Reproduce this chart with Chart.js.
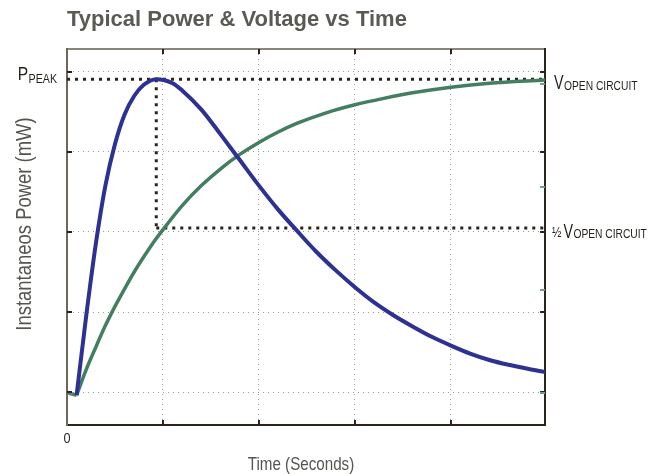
<!DOCTYPE html>
<html>
<head>
<meta charset="utf-8">
<script src="https://cdn.jsdelivr.net/npm/chart.js@4.4.0/dist/chart.umd.min.js"></script>
<style>
  html, body { margin: 0; padding: 0; background: #fff; }
  #wrap { width: 662px; height: 474px; }
</style>
</head>
<body>
<div id="wrap"><canvas id="powerChart" width="662" height="474"></canvas></div>
<script>
const FONT = "'Liberation Sans', Arial, sans-serif";
const NARROW = 0.82; // condensed look

// ================= DATA =================
const timeTicks = [0, 1, 2, 3, 4];
const levelTicks = [0, 1, 2, 3, 4];
const voltTicks = [0, 1, 2, 3];

// flat lead-in before the curves start
const leadTime  = [0, 0.1];
const leadValue = [-0.01, -0.04];

const powerTime  = [0.1, 0.2, 0.3, 0.4, 0.5, 0.6, 0.7, 0.8, 0.93, 1.1, 1.2, 1.4, 1.6, 1.8, 2.0, 2.2, 2.4, 2.6, 2.8, 3.0, 3.2, 3.4, 3.6, 3.8, 4.0, 4.2, 4.4, 4.6, 4.8, 4.98];
const powerValue = [-0.04, 0.95, 1.85, 2.58, 3.10, 3.47, 3.70, 3.84, 3.91, 3.86, 3.77, 3.53, 3.22, 2.90, 2.58, 2.28, 2.01, 1.75, 1.52, 1.31, 1.12, 0.96, 0.82, 0.69, 0.58, 0.48, 0.40, 0.34, 0.29, 0.25];

const voltTime  = [0.1, 0.2, 0.3, 0.4, 0.5, 0.6, 0.7, 0.8, 0.9, 1.0, 1.2, 1.4, 1.6, 1.8, 2.0, 2.2, 2.4, 2.7, 3.0, 3.3, 3.6, 4.0, 4.4, 4.98];
const voltValue = [-0.04, 0.28, 0.56, 0.83, 1.07, 1.29, 1.50, 1.69, 1.87, 2.03, 2.33, 2.58, 2.79, 2.97, 3.12, 3.25, 3.36, 3.49, 3.59, 3.67, 3.74, 3.81, 3.86, 3.90];

const peakTime = 0.93;
const peakLevel = 3.91;
const halfLevel = 2.05;
const timeEnd = 4.98;

const xy = (xs, ys) => xs.map((x, i) => ({ x, y: ys[i] }));

// ================= PLUGINS =================
const innerTicks = {
  id: "innerTicks",
  afterDatasetsDraw(chart) {
    const ctx = chart.ctx;
    const a = chart.chartArea;
    const s = chart.scales;
    ctx.save();
    ctx.lineWidth = 2;
    ctx.strokeStyle = "#2b241c";
    timeTicks.slice(1).forEach(v => {
      const px = Math.round(s.x.getPixelForValue(v));
      ctx.beginPath(); ctx.moveTo(px, a.bottom); ctx.lineTo(px, a.bottom - 5); ctx.stroke();
      ctx.beginPath(); ctx.moveTo(px, a.top); ctx.lineTo(px, a.top + 5); ctx.stroke();
    });
    levelTicks.forEach(v => {
      const py = Math.round(s.y.getPixelForValue(v));
      ctx.beginPath(); ctx.moveTo(a.left, py); ctx.lineTo(a.left + 5, py); ctx.stroke();
      ctx.beginPath(); ctx.moveTo(a.right, py); ctx.lineTo(a.right - 5, py); ctx.stroke();
    });
    ctx.strokeStyle = "#6fa088";
    voltTicks.forEach(v => {
      const py = Math.round(s.yVolt.getPixelForValue(v));
      ctx.beginPath(); ctx.moveTo(a.right, py); ctx.lineTo(a.right - 5, py); ctx.stroke();
    });
    ctx.restore();
  }
};

// draw condensed text, returns its width
function narrowText(ctx, text, x, y, font, align, k) {
  k = k || NARROW;
  ctx.font = font;
  const w = ctx.measureText(text).width * k;
  let x0 = x;
  if (align === "center") x0 = x - w / 2;
  if (align === "right") x0 = x - w;
  ctx.save();
  ctx.translate(x0, y);
  ctx.scale(k, 1);
  ctx.textAlign = "left";
  ctx.fillText(text, 0, 0);
  ctx.restore();
  return w;
}

function subText(ctx, x, y, big, small, bigPx, smallPx, drop, kBig) {
  const w = narrowText(ctx, big, x, y, bigPx + "px " + FONT, "left", kBig);
  return w + narrowText(ctx, small, x + w + 0.5, y + drop, smallPx + "px " + FONT);
}

function measureNarrow(ctx, text, font, k) {
  ctx.font = font;
  return ctx.measureText(text).width * (k || NARROW);
}

const labels = {
  id: "labels",
  afterDraw(chart) {
    const ctx = chart.ctx;
    const a = chart.chartArea;
    const s = chart.scales;
    const yPk = s.y.getPixelForValue(peakLevel);
    const yHalf = s.y.getPixelForValue(halfLevel);
    ctx.save();
    ctx.textBaseline = "alphabetic";

    // title
    ctx.fillStyle = "#5a5a54";
    narrowText(ctx, "Typical Power & Voltage vs Time", a.left, 26, "bold 22px " + FONT, "left", 1);

    // P peak
    ctx.fillStyle = "#231f1a";
    const wP = measureNarrow(ctx, "P", "19px " + FONT) + measureNarrow(ctx, "PEAK", "13px " + FONT) + 0.5;
    subText(ctx, a.left - 10 - wP, yPk + 1, "P", "PEAK", 19, 13, 3);

    // V open circuit
    subText(ctx, a.right + 9, yPk + 10, "V", "OPEN CIRCUIT", 21, 12.5, 1, 0.68);
    const wh = narrowText(ctx, "\u00BD", a.right + 7, yHalf + 9, "15px " + FONT, "left", 0.75);
    subText(ctx, a.right + 9 + wh, yHalf + 10, "V", "OPEN CIRCUIT", 21, 12.5, 0, 0.68);

    // x axis
    ctx.fillStyle = "#2e2b27";
    narrowText(ctx, "0", s.x.getPixelForValue(0), a.bottom + 18, "15.5px " + FONT, "center");
    ctx.fillStyle = "#55544f";
    narrowText(ctx, "Time (Seconds)", (a.left + a.right) / 2 - 5, a.bottom + 45, "18.5px " + FONT, "center");

    // y axis title
    ctx.translate(31, (a.top + a.bottom) / 2 - 13);
    ctx.rotate(-Math.PI / 2);
    narrowText(ctx, "Instantaneos Power (mW)", 0, 0, "22.5px " + FONT, "center");
    ctx.restore();
  }
};

// ================= CHART =================
const dotted = { borderColor: "#2b241c", borderWidth: 3, borderDash: [3, 5], pointRadius: 0, borderCapStyle: "butt", fill: false };
const smooth = { pointRadius: 0, cubicInterpolationMode: "monotone", fill: false };

const gridOpts = { color: "#9a9a9a", lineWidth: 1, drawTicks: false };
const noGrid = { display: false, drawTicks: false, tickLength: 0 };

new Chart(document.getElementById("powerChart").getContext("2d"), {
  type: "line",
  data: {
    datasets: [
      Object.assign({ label: "Power", data: xy(powerTime, powerValue), borderColor: "#2d3192", borderWidth: 4 }, smooth),
      Object.assign({ label: "Voltage", data: xy(voltTime, voltValue), borderColor: "#437e61", borderWidth: 3.5 }, smooth),
      { label: "Start", data: xy(leadTime, leadValue), borderColor: "#4f8369", borderWidth: 3.5, pointRadius: 0, tension: 0, fill: false },
      Object.assign({ label: "Peak", data: [{ x: 0, y: peakLevel }, { x: timeEnd, y: peakLevel }] }, dotted),
      Object.assign({ label: "PeakDrop", data: [{ x: peakTime, y: peakLevel }, { x: peakTime, y: halfLevel }] }, dotted),
      Object.assign({ label: "Half", data: [{ x: peakTime, y: halfLevel }, { x: timeEnd, y: halfLevel }] }, dotted)
    ]
  },
  options: {
    responsive: false,
    animation: false,
    events: [],
    layout: { padding: { left: 67, top: 49, right: 117, bottom: 49 } },
    plugins: { legend: { display: false }, tooltip: { enabled: false } },
    scales: {
      x: {
        type: "linear", position: "bottom", min: 0, max: timeEnd,
        afterBuildTicks: sc => { sc.ticks = timeTicks.map(v => ({ value: v })); },
        ticks: { display: false },
        grid: gridOpts,
        border: { display: true, color: "#2b241c", width: 2, dash: [1, 4] }
      },
      xTop: {
        type: "linear", position: "top", min: 0, max: timeEnd,
        ticks: { display: false },
        grid: noGrid,
        border: { display: true, color: "#8a857b", width: 2 }
      },
      y: {
        type: "linear", position: "left", min: -0.4125, max: 4.2875,
        afterBuildTicks: sc => { sc.ticks = levelTicks.map(v => ({ value: v })); },
        ticks: { display: false },
        grid: gridOpts,
        border: { display: true, color: "#6e665a", width: 2, dash: [1, 4] }
      },
      yRight: {
        type: "linear", position: "right", min: -0.4125, max: 4.2875,
        ticks: { display: false },
        grid: noGrid,
        border: { display: true, color: "#2b241c", width: 2 }
      },
      yVolt: {
        type: "linear", position: "right", min: -0.311, max: 3.34,
        ticks: { display: false },
        grid: noGrid,
        border: { display: false }
      }
    }
  },
  plugins: [innerTicks, labels]
});
</script>
</body>
</html>
